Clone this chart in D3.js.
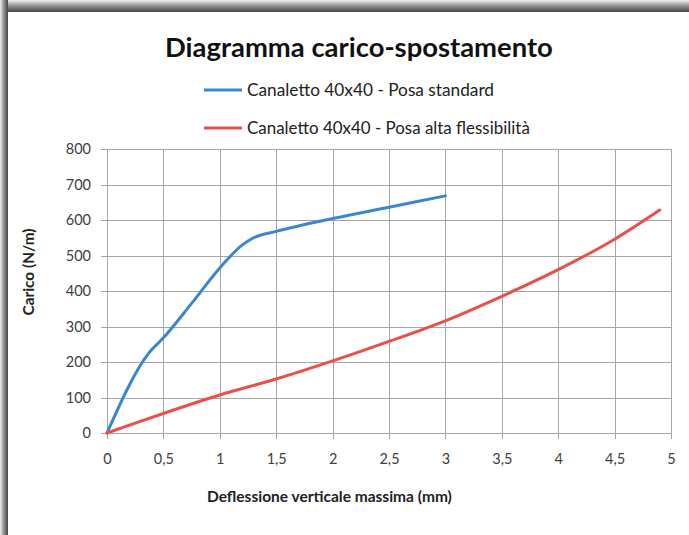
<!DOCTYPE html>
<html>
<head>
<meta charset="utf-8">
<script src="https://cdn.jsdelivr.net/npm/d3@7"></script>
<style>
  html, body { margin: 0; padding: 0; background: #fff; }
  svg { display: block; }
  text { font-family: Lato, "Open Sans", sans-serif; }
</style>
</head>
<body>
<svg id="chart" width="689" height="535"></svg>
<script>
// Load–deflection data (x in mm, y in N/m)
const seriesNames = ["Canaletto 40x40 - Posa standard", "Canaletto 40x40 - Posa alta flessibilità"];
const seriesColors = ["#3a87cd", "#e9504a"];
const standardX = [0, 0.37, 0.5, 0.75, 1.0, 1.2, 1.3, 1.5, 2.0, 2.5, 3.0];
const standardY = [0, 225, 268, 365, 465, 530, 550, 568, 604, 636, 668];
const flexX = [0, 0.5, 1.0, 1.5, 2.0, 2.5, 3.0, 3.5, 4.0, 4.5, 4.9];
const flexY = [0, 55, 107, 152, 203, 258, 316, 385, 460, 546, 628];
const xTicks = [0, 0.5, 1, 1.5, 2, 2.5, 3, 3.5, 4, 4.5, 5];
const yTicks = [0, 100, 200, 300, 400, 500, 600, 700, 800];
const titleText = "Diagramma carico-spostamento";
const xTitle = "Deflessione verticale massima (mm)";
const yTitle = "Carico (N/m)";

const svg = d3.select("#chart");
const W = 689, H = 535;

// Scale a text's font size so it spans the wanted width
function fitWidth(sel, width) {
  const size = +sel.attr("font-size");
  const w = sel.node().getComputedTextLength();
  if (w > 0) sel.attr("font-size", (size * width / w).toFixed(2));
  return sel;
}

// Frame with shaded top and left edges
const defs = svg.append("defs");
function edgeGradient(id, horizontal) {
  const g = defs.append("linearGradient").attr("id", id)
    .attr("x1", 0).attr("y1", 0).attr("x2", horizontal ? 1 : 0).attr("y2", horizontal ? 0 : 1);
  g.append("stop").attr("offset", "0%").attr("stop-color", "#f0f0f0");
  g.append("stop").attr("offset", "50%").attr("stop-color", "#8f8f8f");
  g.append("stop").attr("offset", "100%").attr("stop-color", "#454545");
}
edgeGradient("gTop", false);
edgeGradient("gLeft", true);
svg.append("rect").attr("x", 0).attr("y", 0).attr("width", W).attr("height", H).attr("fill", "#fff");
svg.append("rect").attr("x", 0).attr("y", 0).attr("width", W).attr("height", 12).attr("fill", "url(#gTop)");
svg.append("rect").attr("x", 0).attr("y", 0).attr("width", 8).attr("height", H).attr("fill", "url(#gLeft)");

// Scales
const x = d3.scaleLinear().domain([0, 5]).range([107, 671]);
const y = d3.scaleLinear().domain([0, 800]).range([433, 149]);

// Grid
const grid = svg.append("g").attr("stroke", "#a6a6a6").attr("stroke-width", 1).attr("shape-rendering", "crispEdges");
grid.selectAll(".gx").data(xTicks).join("line")
  .attr("x1", d => Math.round(x(d)) + 0.5).attr("x2", d => Math.round(x(d)) + 0.5)
  .attr("y1", y(800)).attr("y2", y(0) + 6);
grid.selectAll(".gy").data(yTicks).join("line")
  .attr("y1", d => Math.round(y(d)) + 0.5).attr("y2", d => Math.round(y(d)) + 0.5)
  .attr("x1", x(0) - 6).attr("x2", x(5));

// Tick labels via d3 axes
const fmt = d => String(d).replace(".", ",");
const xAxis = svg.append("g").attr("transform", `translate(0,${y(0)})`)
  .call(d3.axisBottom(x).tickValues(xTicks).tickFormat(fmt).tickSize(0).tickPadding(21));
const yAxis = svg.append("g").attr("transform", `translate(${x(0)},0)`)
  .call(d3.axisLeft(y).tickValues(yTicks).tickSize(0).tickPadding(16));
[xAxis, yAxis].forEach(a => {
  a.select(".domain").remove();
  a.selectAll("text").attr("font-family", "Lato, sans-serif").attr("font-size", 14.5).attr("fill", "#404040");
});

// Series
const curves = [d3.curveMonotoneX, d3.curveCatmullRom.alpha(0.5)];
const series = [d3.zip(standardX, standardY), d3.zip(flexX, flexY)];
svg.append("g").selectAll("path").data(series).join("path")
  .attr("d", (d, i) => d3.line().x(p => x(p[0])).y(p => y(p[1])).curve(curves[i])(d))
  .attr("fill", "none")
  .attr("stroke", (d, i) => seriesColors[i])
  .attr("stroke-width", 3)
  .attr("stroke-linejoin", "round")
  .attr("stroke-linecap", "round");

// Title
const title = svg.append("text").attr("x", 165).attr("y", 57)
  .attr("font-size", 24).attr("font-weight", "bold").attr("fill", "#111").text(titleText);
fitWidth(title, 388);

// Legend
const leg = svg.append("g");
const legendWidths = [247, 283];
seriesNames.forEach((name, i) => {
  const ly = 90 + i * 38;
  leg.append("line").attr("x1", 204).attr("x2", 242).attr("y1", ly).attr("y2", ly)
    .attr("stroke", seriesColors[i]).attr("stroke-width", 3);
  const t = leg.append("text").attr("x", 247).attr("y", ly + 6).attr("font-size", 15)
    .attr("fill", "#222").text(name);
  fitWidth(t, legendWidths[i]);
});

// Axis titles
const xt = svg.append("text").attr("x", 207).attr("y", 502)
  .attr("font-size", 14).attr("font-weight", "bold").attr("fill", "#222").text(xTitle);
fitWidth(xt, 245);
const yt = svg.append("text").attr("transform", "translate(34,272) rotate(-90)").attr("text-anchor", "middle")
  .attr("font-size", 14).attr("font-weight", "bold").attr("fill", "#222").text(yTitle);
fitWidth(yt, 87);
</script>
</body>
</html>
